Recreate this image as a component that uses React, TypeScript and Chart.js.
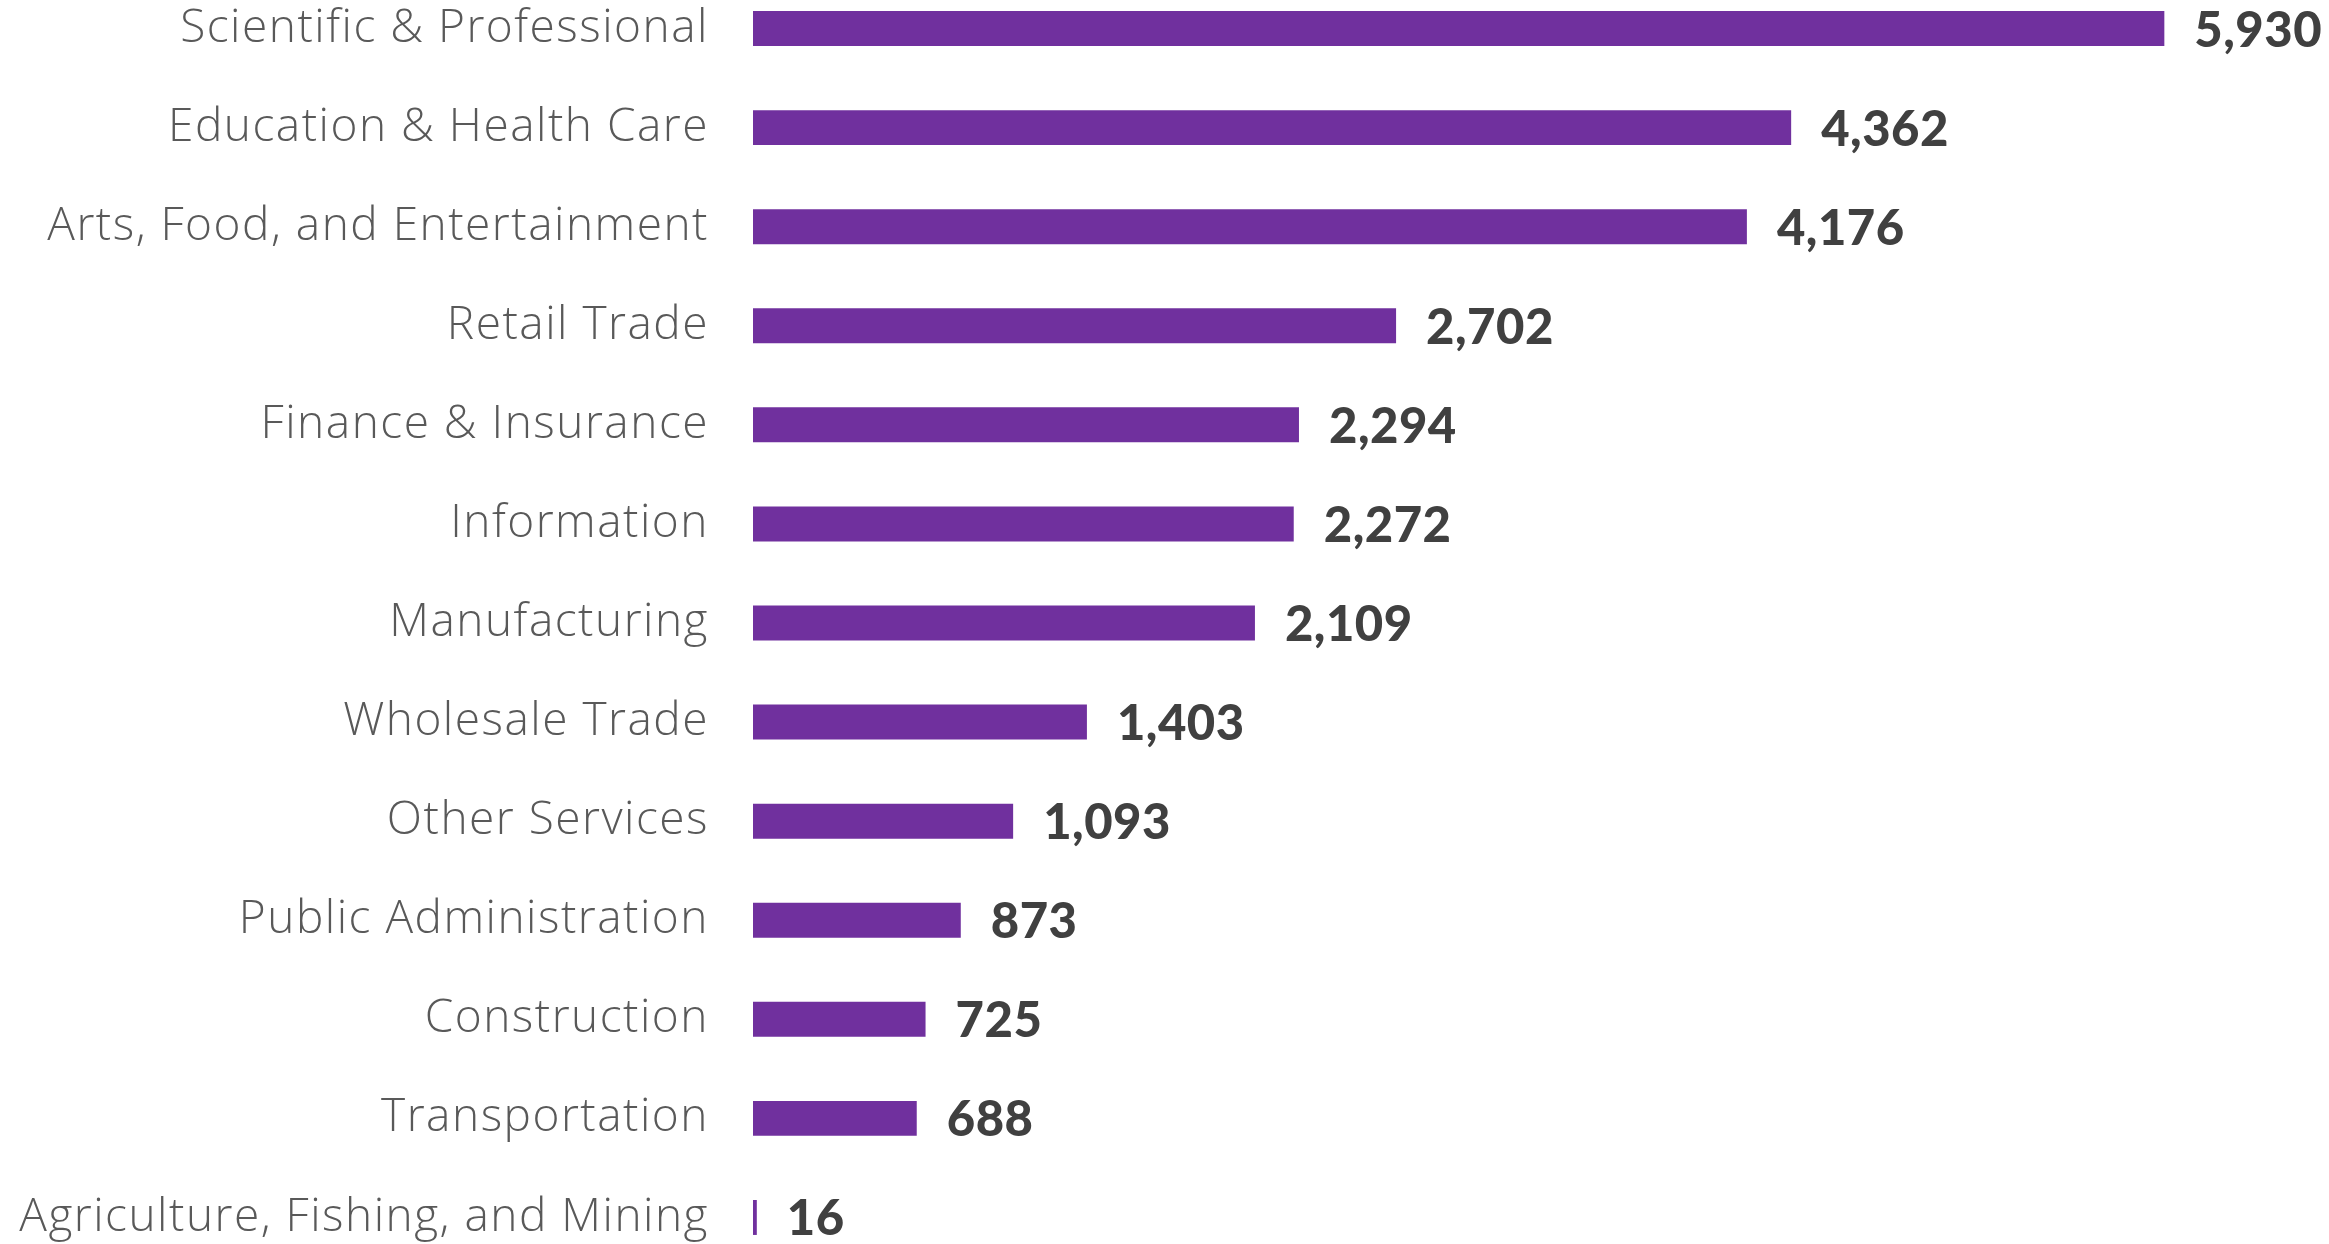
import React, { useEffect, useRef } from "react";
import { Chart, registerables } from "chart.js";

Chart.register(...registerables);

const categories = [
  "Scientific & Professional",
  "Education & Health Care",
  "Arts, Food, and Entertainment",
  "Retail Trade",
  "Finance & Insurance",
  "Information",
  "Manufacturing",
  "Wholesale Trade",
  "Other Services",
  "Public Administration",
  "Construction",
  "Transportation",
  "Agriculture, Fishing, and Mining",
];

const values = [5930, 4362, 4176, 2702, 2294, 2272, 2109, 1403, 1093, 873, 725, 688, 16];

const BAR_COLOR = "#70309E";
const LABEL_COLOR = "#595959";
const VALUE_COLOR = "#404040";

const spacing = {
  id: "spacing",
  beforeDraw(chart: any) {
    (chart.ctx as any).letterSpacing = "1.5px";
  },
};

const valueLabels = {
  id: "valueLabels",
  afterDatasetsDraw(chart: any) {
    const ctx = chart.ctx;
    const meta = chart.getDatasetMeta(0);
    ctx.save();
    (ctx as any).letterSpacing = "0.5px";
    ctx.font = "900 49px Lato, 'Noto Sans', sans-serif";
    ctx.fillStyle = VALUE_COLOR;
    ctx.textAlign = "left";
    ctx.textBaseline = "alphabetic";
    meta.data.forEach((bar: any, i: number) => {
      const v = values[i];
      ctx.fillText(v.toLocaleString("en-US"), bar.x + 30, bar.y + 18);
    });
    ctx.restore();
  },
};

export default function App() {
  const ref = useRef<HTMLCanvasElement | null>(null);

  useEffect(() => {
    document.body.style.margin = "0";
    if (!ref.current) return;
    const chart = new Chart(ref.current, {
      type: "bar",
      data: {
        labels: categories,
        datasets: [
          {
            data: values,
            backgroundColor: BAR_COLOR,
            borderWidth: 0,
            barPercentage: 1,
            categoryPercentage: 0.353,
            clip: false as any,
          },
        ],
      },
      options: {
        indexAxis: "y",
        animation: false,
        responsive: true,
        maintainAspectRatio: false,
        layout: { padding: { left: 0, right: 148, top: 0, bottom: 0 } },
        plugins: {
          legend: { display: false },
          tooltip: { enabled: false },
        },
        scales: {
          x: {
            display: false,
            min: 0,
            max: 6000,
          },
          y: {
            grid: { display: false, drawTicks: false },
            border: { display: false },
            ticks: {
              padding: 44,
              color: LABEL_COLOR,
              font: { family: "'Open Sans', 'Noto Sans', sans-serif", size: 46, weight: 300 as any },
            },
            afterFit(scale: any) {
              scale.width = 753;
              scale.paddingTop = 0;
              scale.paddingBottom = 0;
            },
          },
        },
      },
      plugins: [spacing, valueLabels],
    });
    return () => chart.destroy();
  }, []);

  return (
    <div style={{ width: 2329, height: 1244, position: "relative", overflow: "hidden" }}>
      <div style={{ position: "absolute", left: 0, top: -21, width: 2329, height: 1288 }}>
        <canvas ref={ref} />
      </div>
    </div>
  );
}
